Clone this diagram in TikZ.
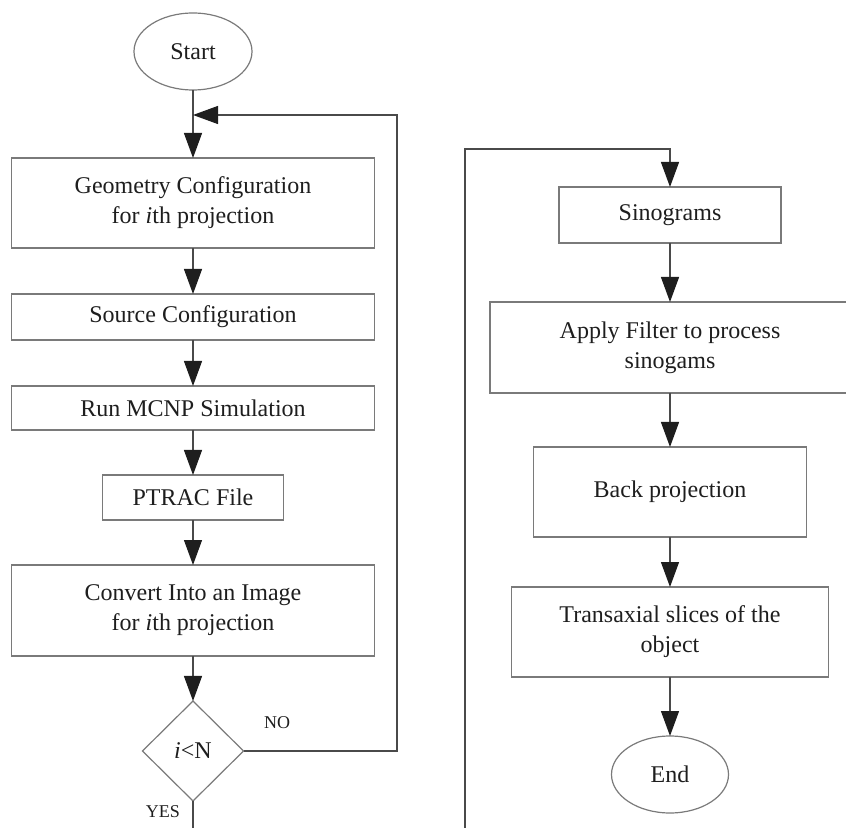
\documentclass[tikz,border=0pt]{standalone}
\usepackage{fontspec}
\setmainfont{Liberation Serif}
\usetikzlibrary{positioning,arrows.meta,shapes.geometric}
\definecolor{linegray}{HTML}{4A4A4A}
\definecolor{boxgray}{HTML}{7A7A7A}
\definecolor{headblack}{HTML}{1E1E1E}
\tikzset{
mybox/.style={
  draw=boxgray,
  line width=0.6pt,
  rectangle,
  inner sep=0pt,
  outer sep=0pt,
  align=center,
  text=headblack,
  font=\fontsize{12}{15}\selectfont
  },
myterm/.style={
  mybox,
  ellipse,
  minimum width=59pt,
  minimum height=38.5pt
  },
mydec/.style={
  mybox,
  diamond,
  minimum width=50.5pt,
  minimum height=50pt
  },
mylabel/.style={
  text=headblack,
  inner sep=0pt,
  font=\fontsize{9}{11}\selectfont
  },
myline/.style={
  draw=linegray,
  line width=0.6pt
  },
myarrow/.style={
  myline,
  -{Triangle[length=12.5pt,width=9pt,color=headblack]}
  }
}
\begin{document}
\begin{tikzpicture}[x=0.5pt,y=-0.5pt]
    \useasboundingbox (0,0) rectangle (846,828);
    \node[myterm] (start) at (193,51.5) {Start};
    \node[mybox,minimum width=181.5pt,minimum height=45pt,below=34pt of start] (geo) {Geometry Configuration\\for \textit{i}th projection};
    \node[mybox,minimum width=181.5pt,minimum height=23pt,below=23pt of geo] (src) {Source Configuration};
    \node[mybox,minimum width=181.5pt,minimum height=22pt,below=23pt of src] (run) {Run MCNP Simulation};
    \node[mybox,minimum width=90.5pt,minimum height=22.5pt,below=22.5pt of run] (ptrac) {PTRAC File};
    \node[mybox,minimum width=181.5pt,minimum height=45.5pt,below=22.5pt of ptrac] (conv) {Convert Into an Image\\for \textit{i}th projection};
    \node[mydec,below=22.5pt of conv] (dec) {\textit{i}<N};
    \node[mylabel] (no) at (277,723) {NO};
    \node[mylabel] (yes) at (163,812) {YES};

    \node[mybox,minimum width=111pt,minimum height=28pt] (sino) at (670,215) {Sinograms};
    \node[mybox,minimum width=180pt,minimum height=45.5pt,below=29.5pt of sino] (filt) {Apply Filter to process\\sinogams};
    \node[mybox,minimum width=136.5pt,minimum height=45pt,below=27pt of filt] (back) {Back projection};
    \node[mybox,minimum width=158.5pt,minimum height=45pt,below=25pt of back] (trans) {Transaxial slices of the\\object};
    \node[myterm,minimum width=58.5pt,below=29.5pt of trans] (end) {End};

    \coordinate (join) at (193,115);
    \coordinate (loopr) at (397,115);
    \coordinate (yesend) at (193,828);
    \coordinate (contb) at (465,828);
    \coordinate (contt) at (465,149);

    \draw[myarrow] (start) -- (geo);
    \draw[myarrow] (geo) -- (src);
    \draw[myarrow] (src) -- (run);
    \draw[myarrow] (run) -- (ptrac);
    \draw[myarrow] (ptrac) -- (conv);
    \draw[myarrow] (conv) -- (dec);
    \draw[myline] (dec) -- (yesend);
    \draw[myarrow] (dec.east) -| (loopr) -- (join);
    \draw[myarrow] (contb) -- (contt) -| (sino.north);
    \draw[myarrow] (sino) -- (filt);
    \draw[myarrow] (filt) -- (back);
    \draw[myarrow] (back) -- (trans);
    \draw[myarrow] (trans) -- (end);
\end{tikzpicture}
\end{document}
